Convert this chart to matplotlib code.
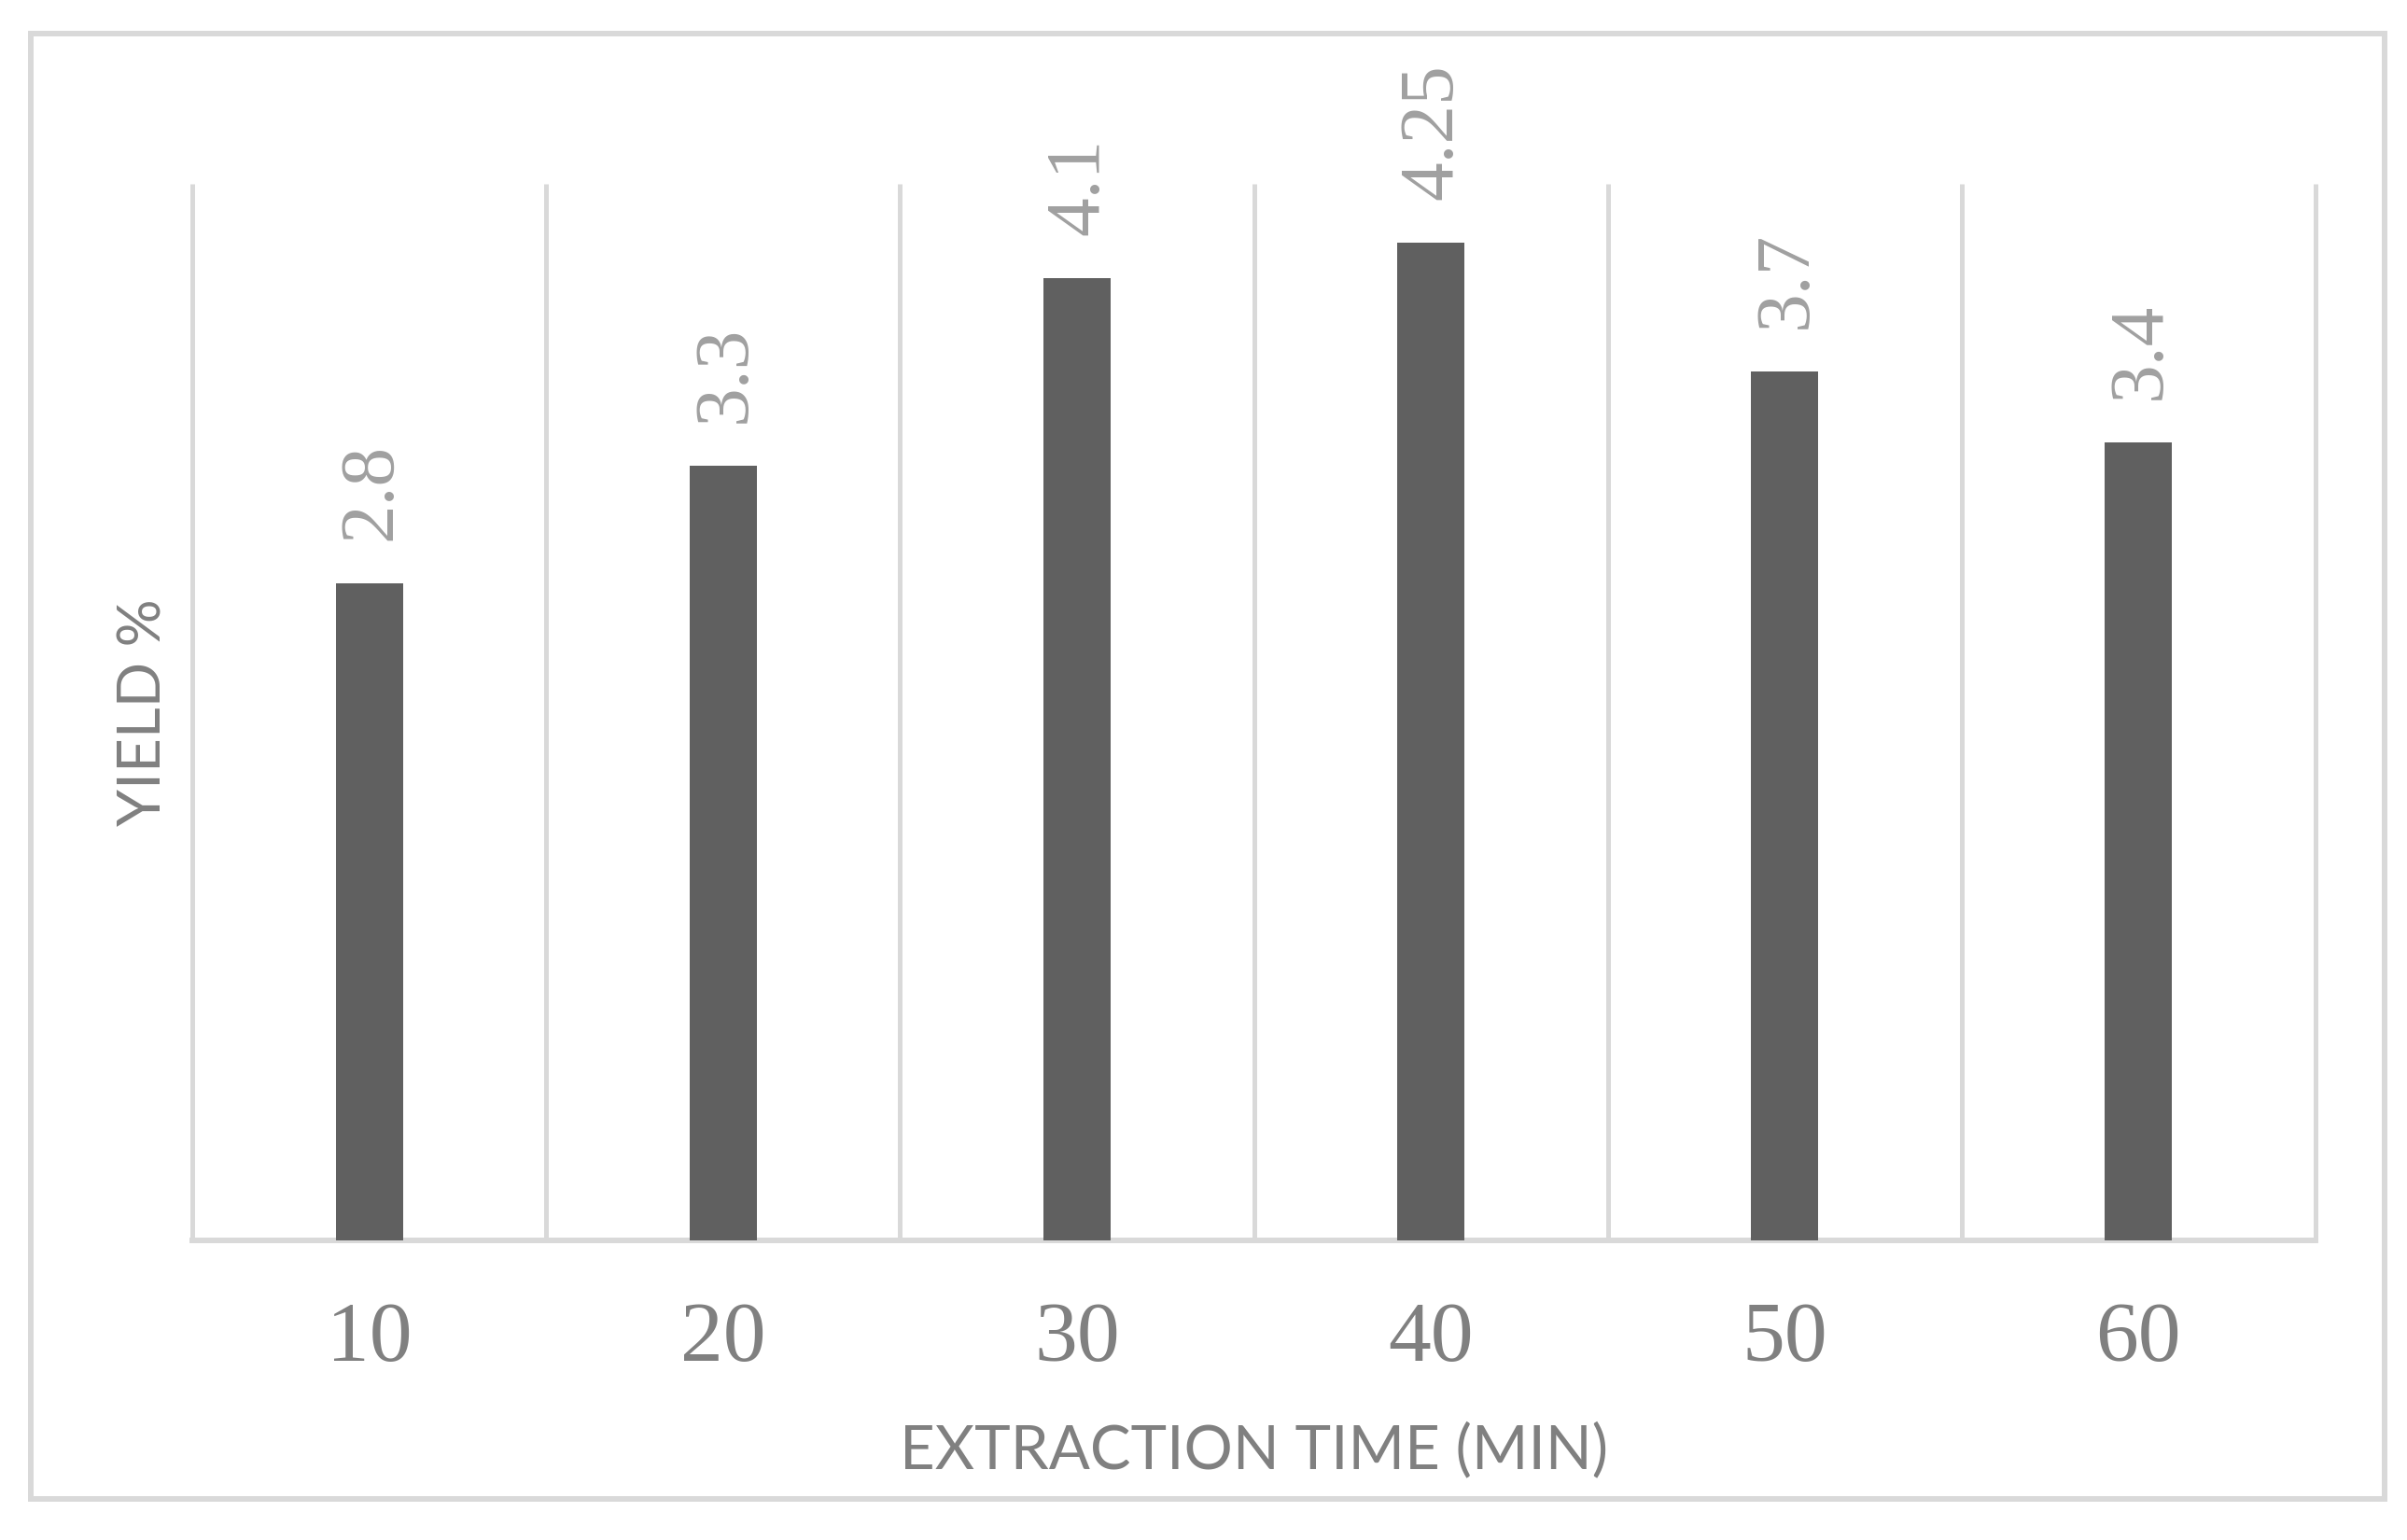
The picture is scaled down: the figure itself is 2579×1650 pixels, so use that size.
import numpy as np
import matplotlib
matplotlib.use("Agg")
import matplotlib.pyplot as plt
from matplotlib.patches import Rectangle

# Data
times = ['10', '20', '30', '40', '50', '60']
yields = [2.8, 3.3, 4.1, 4.25, 3.7, 3.4]
value_labels = ['2.8', '3.3', '4.1', '4.25', '3.7', '3.4']

grid_color = '#D9D9D9'
bar_color = '#606060'

fig = plt.figure(figsize=(25.79, 16.5), dpi=100)
fig.patch.set_facecolor('white')

# Outer chart border
fig.patches.append(Rectangle((0.0128, 0.0267), 0.978, 0.9515, transform=fig.transFigure,
                             fill=False, edgecolor=grid_color, linewidth=4.3, zorder=0))

ax = fig.add_axes([0.0799, 0.1945, 0.8821, 0.6861])
x = np.arange(len(times))
ax.bar(x, yields, width=0.19, color=bar_color, zorder=3)

ax.set_xlim(-0.5, len(times) - 0.5)
ax.set_ylim(0, 4.5)

# Vertical separators between categories
bounds = np.arange(len(times) + 1) - 0.5
ax.vlines(bounds, 0, 4.5, colors=grid_color, linewidth=3.6, clip_on=False, zorder=1)

for sp in ['top', 'right', 'left']:
    ax.spines[sp].set_visible(False)
ax.spines['bottom'].set_color(grid_color)
ax.spines['bottom'].set_linewidth(4.3)
ax.spines['bottom'].set_zorder(2)

ax.set_yticks([])
ax.set_xticks(x)
ax.set_xticklabels(times, fontfamily='Liberation Serif', fontsize=66, color='#808080')
ax.tick_params(axis='x', length=0, pad=47)

# Value labels, rotated
for xi, v, lab in zip(x, yields, value_labels):
    ax.annotate(lab, (xi, v), xytext=(2, 33), textcoords='offset points',
                rotation=90, ha='center', va='bottom', fontfamily='Liberation Serif',
                fontsize=60, color='#A0A0A0', annotation_clip=False)

ax.set_ylabel('YIELD %', fontfamily='Lato', fontsize=46, color='#808080')
ax.yaxis.set_label_coords(-0.01, 0.5)
ax.set_xlabel('EXTRACTION TIME (MIN)', fontfamily='Lato', fontsize=47, color='#808080')
ax.xaxis.set_label_coords(0.5, -0.172)

fig.savefig('out.png', dpi=100, facecolor='white')
